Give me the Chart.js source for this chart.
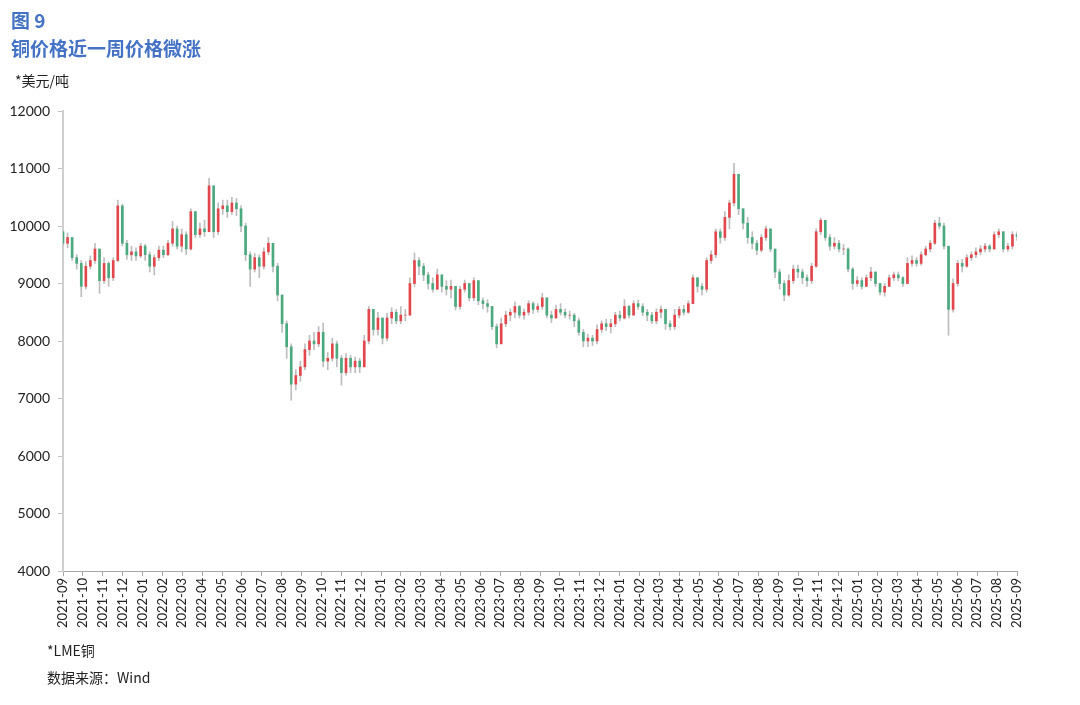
<!DOCTYPE html>
<html>
  <head>
    <meta charset="UTF-8" />
    <title>图 9 铜价格</title>
    <script src="https://cdn.jsdelivr.net/npm/chart.js"></script>
    <style type="text/css">
      body { margin:0; background:#fff; font-family:"Noto Sans CJK SC", sans-serif; }
      #wrap { position:relative; width:1080px; height:705px; }
      #chart { position:absolute; left:0; top:0; }
      .txt { position:absolute; white-space:nowrap; }
      .blue { color:#4472c4; font-weight:bold; font-size:19px; }
      .small { font-size:14px; color:#222; }
    </style>
  </head>
  <body>
    <div id="wrap">
      <canvas id="chart" width="1080" height="705"></canvas>
      <div class="txt blue" style="left:11px; top:6px;">图 9</div>
      <div class="txt blue" style="left:11px; top:34px;">铜价格近一周价格微涨</div>
      <div class="txt small" style="left:15px; top:70px;">*美元/吨</div>
      <div class="txt small" style="left:47px; top:640px;">*LME铜</div>
      <div class="txt small" style="left:47px; top:667px;">数据来源：Wind</div>
    </div>

    <script>
      // month tick labels (x axis = month index, 0 = 2021-09)
      var months = ['2021-09','2021-10','2021-11','2021-12','2022-01','2022-02','2022-03','2022-04','2022-05','2022-06','2022-07','2022-08',
                    '2022-09','2022-10','2022-11','2022-12','2023-01','2023-02','2023-03','2023-04','2023-05','2023-06','2023-07','2023-08',
                    '2023-09','2023-10','2023-11','2023-12','2024-01','2024-02','2024-03','2024-04','2024-05','2024-06','2024-07','2024-08',
                    '2024-09','2024-10','2024-11','2024-12','2025-01','2025-02','2025-03','2025-04','2025-05','2025-06','2025-07','2025-08','2025-09'];

      // LME copper, weekly candles (open = previous close)
      var firstOpen = 9900;
      var closes = [9700,9800,9450,9350,8950,9300,9400,9600,9050,9350,9100,9400,10350,9700,9500,9550,9480,9650,9500,9300,
                    9450,9580,9500,9700,9950,9650,9850,9600,10250,9850,9950,9900,10700,9900,10300,10350,10250,10400,10300,10000,
                    9500,9250,9450,9300,9550,9700,9300,8800,8300,7900,7250,7400,7550,7850,8000,7950,8150,7650,7700,7950,
                    7700,7450,7700,7550,7650,7550,8000,8550,8200,8400,8050,8400,8500,8350,8450,8450,9000,9400,9300,9150,
                    9000,8900,9150,8950,8900,8950,8600,8900,9000,8750,9050,8700,8650,8600,8250,7950,8300,8450,8500,8600,
                    8450,8500,8650,8550,8600,8750,8450,8400,8550,8500,8450,8450,8350,8150,8000,8050,8000,8200,8300,8250,
                    8300,8450,8400,8600,8450,8650,8600,8500,8450,8350,8500,8550,8300,8250,8450,8550,8500,8650,9100,8950,
                    8900,9400,9500,9900,9800,10150,10400,10900,10300,10050,9800,9700,9580,9800,9950,9600,9200,9000,8800,9050,
                    9250,9200,9100,9050,9300,9900,10100,9800,9650,9700,9600,9600,9250,9000,9050,8950,9100,9200,9000,8850,
                    8950,9100,9150,9100,9000,9350,9400,9350,9500,9600,9700,10050,10000,9650,8550,9000,9350,9300,9450,9500,
                    9550,9600,9650,9600,9850,9900,9600,9650,9850,9820];
      var highs  = [9920,9880,9800,9500,9400,9380,9480,9700,9600,9450,9380,9450,10450,10380,9750,9650,9620,9700,9680,9550,
                    9500,9650,9650,9750,10080,10000,9950,9900,10300,10250,10050,10100,10830,10600,10400,10450,10450,10500,10480,10350,
                    10050,9550,9520,9500,9620,9800,9700,9350,8800,8350,7950,7500,7650,7950,8100,8150,8250,8310,7800,8050,
                    8000,7750,7780,7750,7720,7700,8100,8600,8550,8500,8400,8480,8580,8550,8600,8550,9100,9530,9450,9350,
                    9200,9100,9250,9150,9050,9060,8950,8950,9060,9000,9100,9050,8750,8720,8600,8300,8400,8520,8560,8680,
                    8620,8560,8700,8680,8650,8830,8750,8520,8620,8650,8560,8520,8480,8400,8200,8120,8100,8280,8350,8380,
                    8380,8500,8520,8720,8620,8700,8710,8650,8550,8500,8560,8610,8550,8350,8550,8600,8620,8700,9150,9100,
                    9000,9450,9570,9950,9950,10250,10450,11090,10700,10300,10150,9900,9750,9850,10000,9950,9600,9250,9050,9150,
                    9320,9320,9250,9150,9350,9950,10140,10050,9850,9800,9750,9680,9620,9280,9120,9100,9150,9280,9200,9000,
                    9000,9150,9200,9200,9120,9450,9480,9450,9550,9650,9750,10100,10150,10050,9650,9080,9400,9420,9500,9550,
                    9620,9660,9700,9680,9900,9950,9900,9700,9900,9900];
      var lows   = [9650,9620,9400,9250,8770,8900,9250,9350,8830,9000,8950,9050,9380,9650,9420,9400,9400,9450,9400,9200,
                    9150,9400,9450,9480,9650,9600,9550,9500,9580,9800,9800,9820,9900,9800,9850,10200,10150,10200,10180,9900,
                    9400,8950,9200,9100,9250,9500,9200,8700,8150,7700,6970,7150,7300,7500,7750,7850,7900,7550,7500,7650,
                    7550,7230,7400,7450,7450,7450,7550,7950,8100,8100,7950,8000,8300,8300,8300,8350,8450,8950,9150,9050,
                    8900,8850,8900,8850,8800,8750,8540,8550,8850,8700,8700,8630,8560,8500,8200,7880,7950,8250,8350,8400,
                    8400,8380,8450,8480,8500,8550,8400,8320,8400,8450,8400,8380,8250,8100,7900,7900,7920,7950,8150,8180,
                    8140,8250,8350,8380,8400,8450,8550,8440,8350,8300,8300,8400,8200,8190,8200,8400,8450,8480,8650,8850,
                    8800,8850,9350,9450,9700,9750,9950,10350,10200,9950,9700,9600,9500,9550,9750,9550,9100,8900,8700,8780,
                    9000,9100,9000,8950,9000,9280,9850,9750,9580,9600,9550,9500,9200,8900,8950,8900,8950,9050,8950,8800,
                    8780,8950,9050,9050,8950,9000,9300,9300,9320,9480,9550,9680,9950,9600,8100,8500,8950,9200,9280,9400,
                    9450,9500,9550,9550,9600,9800,9550,9560,9600,9750];

      var upColor = '#e2474c';
      var downColor = '#4aa97e';
      var wickColor = '#bdbdbd';

      var bodies = [];
      var wicks = [];
      var bodyColors = [];
      for (var i = 0; i < closes.length; i++) {
        var x = i * 48 / (closes.length - 1);   // week -> month index
        var open = i === 0 ? firstOpen : closes[i - 1];
        bodies.push({ x: x, y: [open, closes[i]] });
        wicks.push({ x: x, y: [lows[i], highs[i]] });
        bodyColors.push(closes[i] >= open ? upColor : downColor);
      }

      var tickFont = { family: 'Lato, "Noto Sans", sans-serif', size: 13 };

      new Chart(document.getElementById('chart'), {
        type: 'bar',
        data: {
          datasets: [
            { label: 'wick', data: wicks, backgroundColor: wickColor, barThickness: 1, order: 2 },
            { label: 'body', data: bodies, backgroundColor: bodyColors, barThickness: 2, order: 1 }
          ]
        },
        options: {
          responsive: false,
          animation: false,
          grouped: false,
          layout: { padding: { top: 111, right: 63, bottom: 70, left: 0 } },
          plugins: { legend: { display: false }, tooltip: { enabled: false } },
          scales: {
            x: {
              type: 'linear',
              min: 0,
              max: 48,
              offset: false,
              grid: { offset: false, drawOnChartArea: false, drawTicks: true, tickLength: 5, color: '#a6a6a6' },
              border: { color: '#a6a6a6', width: 1 },
              ticks: {
                stepSize: 1,
                autoSkip: false,
                minRotation: 90,
                maxRotation: 90,
                padding: 2,
                color: '#222',
                font: tickFont,
                callback: function (v) { return months[v]; }
              },
              afterFit: function (s) { s.height = 64; }
            },
            y: {
              min: 4000,
              max: 12000,
              grid: { drawOnChartArea: false, drawTicks: true, tickLength: 5, color: '#bfbfbf' },
              border: { color: '#cfcfcf', width: 2 },
              ticks: {
                stepSize: 1000,
                padding: 8,
                color: '#222',
                font: { family: 'Lato, "Noto Sans", sans-serif', size: 14 },
                callback: function (v) { return String(v); }
              },
              afterFit: function (s) { s.width = 63; }
            }
          }
        }
      });
    </script>
  </body>
</html>
